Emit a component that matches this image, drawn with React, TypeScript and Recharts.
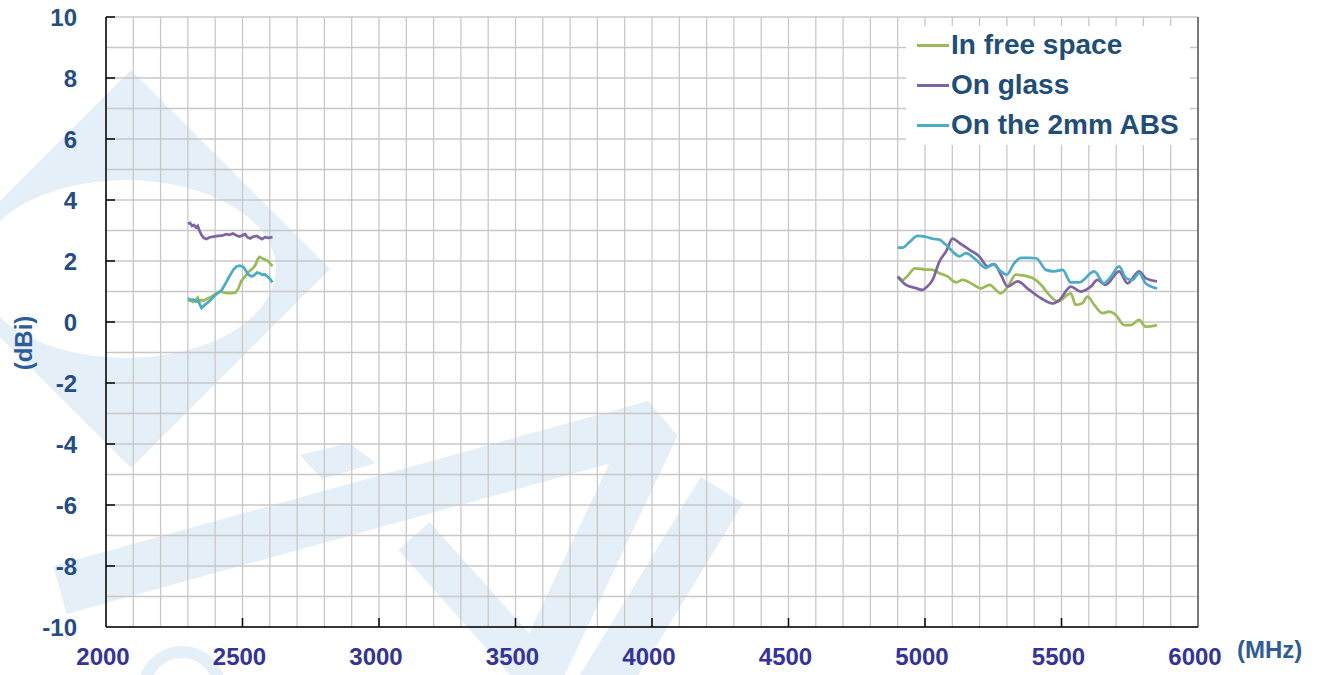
import React from "react";
import {
  LineChart,
  Line,
  XAxis,
  YAxis,
  CartesianGrid,
  ReferenceLine
} from "recharts";

// series names / colours
const seriesNames = ["In free space", "On glass", "On the 2mm ABS"];
const seriesColors = ["#9BBB59", "#8064A2", "#4BACC6"];

// major tick labels
const xMajorTicks = [2000, 2500, 3000, 3500, 4000, 4500, 5000, 5500, 6000];
const yMajorTicks = [-10, -8, -6, -4, -2, 0, 2, 4, 6, 8, 10];

// 2.4 GHz band
const freeLowMHz = [2300, 2310, 2318, 2326, 2336, 2342, 2350, 2357, 2370, 2385, 2400, 2418, 2430, 2443, 2460, 2474, 2485, 2496, 2510, 2520, 2529, 2540, 2548, 2555, 2562, 2570, 2580, 2590, 2600, 2610];
const freeLowDbi = [0.72, 0.7, 0.66, 0.7, 0.8, 0.68, 0.72, 0.7, 0.76, 0.82, 0.92, 1.0, 0.97, 0.95, 0.95, 0.96, 1.1, 1.35, 1.5, 1.62, 1.7, 1.78, 1.88, 2.05, 2.13, 2.1, 2.06, 2.02, 1.93, 1.83];

const glassLowMHz = [2300, 2308, 2315, 2322, 2330, 2336, 2342, 2350, 2358, 2368, 2380, 2395, 2410, 2425, 2440, 2452, 2465, 2475, 2488, 2500, 2510, 2518, 2528, 2540, 2553, 2563, 2572, 2582, 2595, 2610];
const glassLowDbi = [3.22, 3.25, 3.15, 3.18, 3.1, 3.15, 3.0, 2.85, 2.76, 2.72, 2.78, 2.8, 2.82, 2.83, 2.88, 2.86, 2.9, 2.85, 2.8, 2.84, 2.88, 2.78, 2.74, 2.8, 2.82, 2.76, 2.72, 2.78, 2.76, 2.78];

const absLowMHz = [2300, 2310, 2318, 2328, 2338, 2345, 2350, 2357, 2370, 2385, 2400, 2424, 2440, 2449, 2460, 2467, 2478, 2490, 2504, 2515, 2522, 2532, 2541, 2553, 2563, 2572, 2582, 2590, 2600, 2610];
const absLowDbi = [0.78, 0.72, 0.74, 0.68, 0.7, 0.55, 0.46, 0.52, 0.62, 0.74, 0.88, 1.05, 1.3, 1.45, 1.62, 1.72, 1.82, 1.85, 1.8, 1.65, 1.55, 1.5, 1.52, 1.62, 1.6, 1.55, 1.56, 1.5, 1.42, 1.3];

// 5 GHz band
const freeHighMHz = [4900, 4918, 4935, 4963, 5000, 5028, 5053, 5083, 5114, 5138, 5175, 5205, 5236, 5278, 5303, 5333, 5351, 5394, 5425, 5455, 5486, 5534, 5552, 5577, 5595, 5620, 5650, 5675, 5699, 5730, 5754, 5784, 5808, 5850];
const freeHighDbi = [1.49, 1.38, 1.5, 1.76, 1.72, 1.71, 1.6, 1.49, 1.3, 1.38, 1.24, 1.1, 1.22, 0.94, 1.16, 1.55, 1.54, 1.44, 1.22, 0.89, 0.67, 0.94, 0.56, 0.62, 0.83, 0.56, 0.29, 0.34, 0.23, -0.1, -0.1, 0.07, -0.15, -0.1];

const glassHighMHz = [4900, 4930, 4967, 4991, 5004, 5028, 5053, 5077, 5101, 5126, 5162, 5199, 5230, 5254, 5278, 5303, 5339, 5382, 5425, 5467, 5492, 5534, 5571, 5607, 5632, 5662, 5711, 5742, 5784, 5808, 5850];
const glassHighDbi = [1.49, 1.22, 1.11, 1.05, 1.13, 1.38, 1.99, 2.31, 2.73, 2.59, 2.37, 2.15, 1.82, 1.9, 1.55, 1.16, 1.33, 1.05, 0.78, 0.61, 0.72, 1.16, 1.0, 1.16, 1.38, 1.22, 1.66, 1.27, 1.66, 1.44, 1.33];

const absHighMHz = [4900, 4918, 4943, 4973, 5000, 5028, 5052, 5077, 5107, 5126, 5150, 5187, 5223, 5248, 5278, 5299, 5327, 5351, 5382, 5407, 5443, 5473, 5504, 5534, 5565, 5620, 5656, 5681, 5711, 5736, 5760, 5784, 5808, 5850];
const absHighDbi = [2.44, 2.44, 2.62, 2.82, 2.8, 2.73, 2.7, 2.53, 2.26, 2.15, 2.26, 2.04, 1.77, 1.9, 1.66, 1.55, 1.93, 2.1, 2.1, 2.09, 1.71, 1.66, 1.71, 1.3, 1.3, 1.66, 1.27, 1.49, 1.82, 1.44, 1.38, 1.6, 1.27, 1.1];

const toPoints = (f: number[], v: number[]) => f.map((mhz, i) => ({ mhz, dbi: v[i] }));

const lowBand = [
  toPoints(freeLowMHz, freeLowDbi),
  toPoints(glassLowMHz, glassLowDbi),
  toPoints(absLowMHz, absLowDbi)
];
const highBand = [
  toPoints(freeHighMHz, freeHighDbi),
  toPoints(glassHighMHz, glassHighDbi),
  toPoints(absHighMHz, absHighDbi)
];

// minor grid: every 100 MHz / every 1 dBi
const xGridTicks: number[] = [];
for (let f = 2000; f <= 6000; f += 100) xGridTicks.push(f);
const yGridTicks: number[] = [];
for (let d = -10; d <= 10; d += 1) yGridTicks.push(d);

const FONT = "'Liberation Sans', Arial, sans-serif";

const renderXTick = (props: any) => {
  const { x, y, payload } = props;
  const v = payload.value;
  if (!xMajorTicks.includes(v)) return <g />;
  return (
    <g>
      {v !== 2000 && v !== 6000 && (
        <line x1={x} x2={x} y1={y} y2={y - 9} stroke="#000" strokeWidth={1.5} />
      )}
      <text x={x - 3} y={y + 38} textAnchor="middle" fill="#33339B" fontSize={24} fontWeight="bold" fontFamily={FONT}>
        {v}
      </text>
    </g>
  );
};

const renderYTick = (props: any) => {
  const { x, y, payload } = props;
  const v = payload.value;
  if (!yMajorTicks.includes(v)) return <g />;
  return (
    <g>
      {v !== -10 && (
        <line x1={x} x2={x + 9} y1={y} y2={y} stroke="#000" strokeWidth={1.5} />
      )}
      <text x={x - 29} y={y + 9} textAnchor="end" fill="#244C86" fontSize={24} fontWeight="bold" fontFamily={FONT}>
        {v}
      </text>
    </g>
  );
};

const Watermark = () => (
  <svg width={1324} height={675} style={{ position: "absolute", left: 0, top: 0 }}>
    <g fill="#E4EFF7" stroke="none">
      <path
        fillRule="evenodd"
        d="M131,70 L330,269 L131,468 L-68,269 Z M-24,269 a150,89 0 1,0 300,0 a150,89 0 1,0 -300,0 Z"
      />
      <polygon points="300,455 349,443 376,463 322,479" />
    </g>
    <g fill="none" stroke="#E4EFF7">
      <polyline points="60,590 655,425 530,690" strokeWidth={50} strokeLinejoin="bevel" />
      <polyline points="414,536 525,660" strokeWidth={42} />
      <polyline points="722,490 600,690" strokeWidth={50} />
      <circle cx={182} cy={690} r={38} strokeWidth={12} />
    </g>
  </svg>
);

const App = () => {
  return (
    <div style={{ position: "absolute", left: 0, top: 0, width: 1324, height: 675, background: "#fff", fontFamily: FONT }}>
      <Watermark />
      <div style={{ position: "absolute", left: 0, top: 0 }}>
        <LineChart width={1324} height={675} margin={{ top: 17, right: 126, bottom: 8, left: 16 }}>
          <CartesianGrid stroke="#C8C8C8" strokeWidth={1.3} />
          <XAxis
            dataKey="mhz"
            type="number"
            domain={[2000, 6000]}
            ticks={xGridTicks}
            interval={0}
            allowDataOverflow
            height={40}
            tickSize={0}
            tickMargin={0}
            tickLine={false}
            axisLine={{ stroke: "#000", strokeWidth: 1.5 }}
            tick={renderXTick}
          />
          <YAxis
            type="number"
            domain={[-10, 10]}
            ticks={yGridTicks}
            interval={0}
            allowDataOverflow
            width={90}
            tickSize={0}
            tickMargin={0}
            tickLine={false}
            axisLine={{ stroke: "#000", strokeWidth: 1.5 }}
            tick={renderYTick}
          />
          <ReferenceLine x={6000} stroke="#595959" strokeWidth={1.5} />
          {lowBand.map((pts, i) => (
            <Line
              key={`low-${i}`}
              data={pts}
              dataKey="dbi"
              type="linear"
              stroke={seriesColors[i]}
              strokeWidth={2.75}
              dot={false}
              activeDot={false}
              isAnimationActive={false}
            />
          ))}
          {highBand.map((pts, i) => (
            <Line
              key={`high-${i}`}
              data={pts}
              dataKey="dbi"
              type="monotone"
              stroke={seriesColors[i]}
              strokeWidth={2.75}
              dot={false}
              activeDot={false}
              isAnimationActive={false}
            />
          ))}
        </LineChart>
      </div>
      {/* legend */}
      <div
        style={{
          position: "absolute",
          left: 906,
          top: 26,
          width: 284,
          height: 119,
          background: "#fff"
        }}
      >
        {seriesNames.map((name, i) => (
          <div key={name} style={{ position: "absolute", left: 11, top: 4 + i * 40, height: 30, display: "flex", alignItems: "center" }}>
            <div style={{ width: 32, height: 3, background: seriesColors[i] }} />
            <span style={{ marginLeft: 2, fontSize: 28, fontWeight: "bold", color: "#1F4E79", lineHeight: "30px", whiteSpace: "nowrap" }}>
              {name}
            </span>
          </div>
        ))}
      </div>
      <div style={{ position: "absolute", left: 1237, top: 636, fontSize: 24, fontWeight: "bold", color: "#2E5C99", lineHeight: "28px" }}>
        (MHz)
      </div>
      <div
        style={{
          position: "absolute",
          left: 24,
          top: 343,
          transform: "translate(-50%, -50%) rotate(-90deg)",
          fontSize: 24,
          fontWeight: "bold",
          color: "#2E5C99",
          whiteSpace: "nowrap"
        }}
      >
        (dBi)
      </div>
    </div>
  );
};

export default App;
